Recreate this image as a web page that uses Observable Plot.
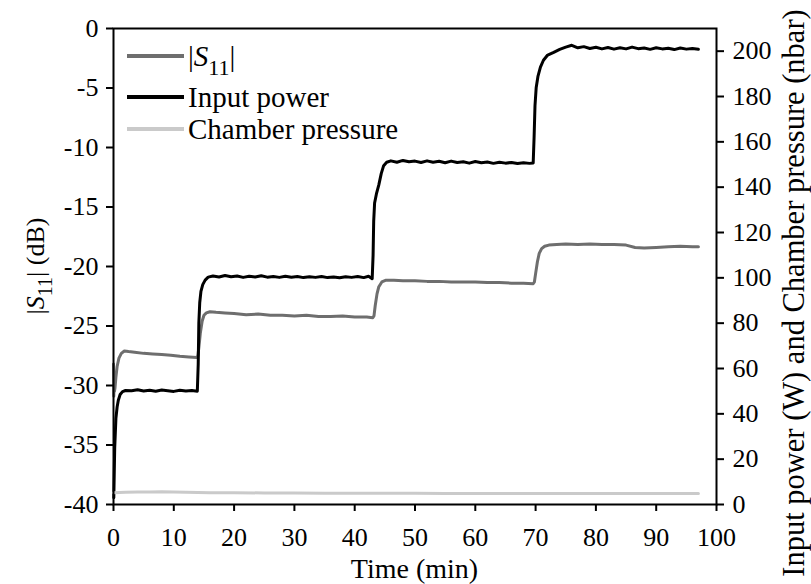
<!DOCTYPE html>
<html>
<head>
<meta charset="utf-8">
<script src="https://cdn.jsdelivr.net/npm/d3@7"></script>
<script src="https://cdn.jsdelivr.net/npm/@observablehq/plot@0.6"></script>
<style>
  html, body { margin: 0; padding: 0; background: #fff; }
  #chart { width: 811px; height: 584px; }
  #chart svg text, #chart svg tspan { font-family: "Liberation Serif", "Times New Roman", serif !important; }
</style>
</head>
<body>
<div id="chart"></div>
<script>
// ---- data ----
const xTicks = [0, 10, 20, 30, 40, 50, 60, 70, 80, 90, 100];
const leftTicks = [-40, -35, -30, -25, -20, -15, -10, -5, 0];
const rightTicks = [0, 20, 40, 60, 80, 100, 120, 140, 160, 180, 200];
const rightMax = 210;

const seriesNames = ["|S11|", "Input power", "Chamber pressure"];
const seriesColors = ["#6e6e6e", "#000000", "#cacaca"];

// |S11| (dB) vs time (min)
const s11Time = [0, 0.05, 0.1, 0.15, 0.25, 0.4, 0.6, 0.9, 1.3, 1.8, 2.5, 3.5, 5, 6.5, 8, 9.5, 11, 12.5, 13.8, 14.0, 14.2, 14.4, 14.7, 15.0, 15.4, 16, 17, 18.5, 20, 22, 24, 26, 28, 30, 32, 34, 36, 38, 40, 42, 43.0, 43.2, 43.4, 43.7, 44.0, 44.5, 45.2, 46.5, 48, 50, 52, 54, 56, 58, 60, 62, 64, 66, 68, 69.6, 69.8, 70.0, 70.3, 70.6, 71.0, 71.5, 72.2, 73.5, 75, 77, 79, 81, 83, 85, 86.5, 88, 90, 92, 94, 96, 97];
const s11Db = [-28.2, -30.9, -29.0, -30.5, -30.2, -29.3, -28.4, -27.7, -27.3, -27.1, -27.15, -27.2, -27.3, -27.35, -27.4, -27.45, -27.55, -27.6, -27.65, -27.5, -26.6, -25.6, -24.6, -24.1, -23.9, -23.8, -23.85, -23.9, -23.95, -24.05, -24.0, -24.1, -24.1, -24.15, -24.1, -24.2, -24.2, -24.15, -24.25, -24.25, -24.3, -24.15, -23.3, -22.3, -21.7, -21.3, -21.15, -21.15, -21.2, -21.2, -21.25, -21.25, -21.3, -21.3, -21.3, -21.35, -21.35, -21.4, -21.4, -21.45, -21.3, -20.6, -19.6, -18.9, -18.5, -18.3, -18.2, -18.15, -18.1, -18.15, -18.1, -18.15, -18.15, -18.2, -18.4, -18.45, -18.4, -18.35, -18.3, -18.35, -18.35];

// Input power (W) vs time (min)
const powerTime = [0.05, 0.2, 0.4, 0.6, 0.8, 1.1, 1.5, 2, 3, 4, 5, 6, 7, 8, 9, 10, 11, 12, 13, 13.9, 14.05, 14.15, 14.3, 14.5, 14.8, 15.2, 15.7, 16.5, 17.5, 18.5, 19.5, 20.5, 21.5, 22.5, 23.5, 24.5, 25.5, 26.5, 27.5, 28.5, 29.5, 30.5, 31.5, 32.5, 33.5, 34.5, 35.5, 36.5, 37.5, 38.5, 39.5, 40.5, 41.5, 42.3, 42.9, 43.05, 43.15, 43.3, 43.6, 44.0, 44.4, 44.8, 45.3, 46, 47, 48, 49, 50, 51, 52, 53, 54, 55, 56, 57, 58, 59, 60, 61, 62, 63, 64, 65, 66, 67, 68, 69, 69.6, 69.75, 69.9, 70.1, 70.4, 70.8, 71.3, 72, 73, 74, 75, 76, 77, 78, 79, 80, 81, 82, 83, 84, 85, 86, 87, 88, 89, 90, 91, 92, 93, 94, 95, 96, 97];
const powerW = [3, 25, 38, 43, 46, 48.5, 49.8, 50.3, 50.2, 50.6, 50.1, 50.4, 50.0, 50.5, 50.2, 49.9, 50.4, 50.1, 50.3, 50.0, 62, 80, 89, 94, 97, 99, 100.3, 100.8, 100.4, 101.0, 100.5, 100.8, 100.2, 100.7, 100.4, 100.9, 100.3, 100.6, 100.2, 100.7, 100.3, 100.6, 100.1, 100.5, 100.2, 100.6, 100.1, 100.4, 100.0, 100.5, 100.2, 100.6, 100.1, 100.7, 99.6, 110, 125, 133, 137, 141, 146, 149.5, 151, 151.6, 151.0, 151.8, 151.2, 151.5, 150.9, 151.6, 151.0, 151.4, 150.8, 151.5, 150.9, 151.2, 150.6, 151.3, 150.8, 151.1, 150.5, 151.0, 150.6, 150.9, 150.4, 150.8, 150.5, 150.7, 162, 176, 184, 189, 193, 196, 198.3, 199.5, 200.8, 201.8, 202.6, 201.5, 202.0, 201.2, 201.7, 201.0, 201.6, 200.9, 201.5, 201.0, 201.8, 201.1, 201.4, 200.8, 201.5, 201.0, 201.3, 200.7, 201.4, 200.9, 201.2, 200.8];

// Chamber pressure (nbar) vs time (min)
const pressureTime = [0, 2, 4, 6, 8, 10, 12, 14, 16, 20, 25, 30, 35, 40, 45, 50, 55, 60, 65, 70, 75, 80, 85, 90, 95, 97];
const pressureNbar = [5.2, 5.4, 5.5, 5.5, 5.6, 5.5, 5.4, 5.3, 5.2, 5.2, 5.1, 5.1, 5.0, 5.0, 5.0, 5.0, 4.9, 4.9, 4.9, 4.9, 4.9, 4.9, 4.8, 4.8, 4.8, 4.8];

// ---- build tables ----
const toLeft = v => -40 + v * 40 / rightMax;     // right-axis units -> left-axis units
const fromLeft = d => (d + 40) * rightMax / 40;

const s11 = s11Time.map((t, i) => ({t, v: s11Db[i]}));
const power = powerTime.map((t, i) => ({t, v: toLeft(powerW[i])}));
const pressure = pressureTime.map((t, i) => ({t, v: toLeft(pressureNbar[i])}));

const W = 811, H = 584, mL = 113, mR = 95, mT = 28, mB = 80;
const FONT = "Liberation Serif, Times New Roman, serif";

const chart = Plot.plot({
  width: W, height: H,
  marginLeft: mL, marginRight: mR, marginTop: mT, marginBottom: mB,
  style: {fontFamily: FONT, fontSize: "26px", color: "#000", background: "#fff", overflow: "visible"},
  x: {domain: [0, 100]},
  y: {domain: [-40, 0]},
  marks: [
    Plot.line(s11, {x: "t", y: "v", stroke: seriesColors[0], strokeWidth: 3, strokeLinejoin: "round"}),
    Plot.line(power, {x: "t", y: "v", stroke: seriesColors[1], strokeWidth: 3, strokeLinejoin: "round"}),
    Plot.line(pressure, {x: "t", y: "v", stroke: seriesColors[2], strokeWidth: 3, strokeLinejoin: "round"}),
    Plot.frame({stroke: "#000", strokeWidth: 2}),
    Plot.axisX({ticks: xTicks, tickSize: 7, tickPadding: 16, strokeWidth: 2, label: null, tickFormat: d => String(d), fontVariant: "normal"}),
    Plot.axisY({ticks: leftTicks, tickSize: 7, tickPadding: 8, strokeWidth: 2, label: null, tickFormat: d => String(d), fontVariant: "normal"}),
    Plot.axisY({anchor: "right", ticks: rightTicks.map(toLeft), tickSize: 7, tickPadding: 9, strokeWidth: 2, label: null,
      tickFormat: d => String(Math.round(fromLeft(d))), fontVariant: "normal"})
  ]
});
document.getElementById("chart").appendChild(chart);

// ---- axis titles and legend ----
const svg = d3.select(chart);
svg.selectAll("text").attr("font-family", FONT);
const yMid = (mT + (H - mB)) / 2;

// left title |S11| (dB)
const lt = svg.append("text")
  .attr("transform", `translate(44,${yMid}) rotate(-90)`)
  .attr("text-anchor", "middle")
  .attr("font-family", FONT).attr("font-size", 26).attr("fill", "#000");
lt.append("tspan").text("|");
lt.append("tspan").attr("font-style", "italic").text("S");
lt.append("tspan").attr("font-size", 20).attr("dy", 8).text("11");
lt.append("tspan").attr("dy", -8).text("| (dB)");

// right title
svg.append("text")
  .attr("transform", `translate(804,293) rotate(-90)`)
  .attr("text-anchor", "middle")
  .attr("font-family", FONT).attr("font-size", 30.5).attr("fill", "#000")
  .text("Input power (W) and Chamber pressure (nbar)");

// bottom title
svg.append("text")
  .attr("x", (mL + (W - mR)) / 2).attr("y", 578)
  .attr("text-anchor", "middle")
  .attr("font-family", FONT).attr("font-size", 28).attr("fill", "#000")
  .text("Time (min)");

// legend
const legendY = [56, 97, 129];
const lg = svg.append("g").attr("font-family", FONT).attr("font-size", 29).attr("fill", "#000")
  .attr("text-anchor", "start");
seriesNames.forEach((name, i) => {
  lg.append("line").attr("x1", 127).attr("x2", 184).attr("y1", legendY[i]).attr("y2", legendY[i])
    .attr("stroke", seriesColors[i]).attr("stroke-width", 4);
  const tx = lg.append("text").attr("x", 188).attr("y", legendY[i] + 10).attr("text-anchor", "start");
  if (i === 0) {
    tx.append("tspan").text("|");
    tx.append("tspan").attr("font-style", "italic").text("S");
    tx.append("tspan").attr("font-size", 22).attr("dy", 9).text("11");
    tx.append("tspan").attr("dy", -9).text("|");
  } else {
    tx.text(name);
  }
});
</script>
</body>
</html>
